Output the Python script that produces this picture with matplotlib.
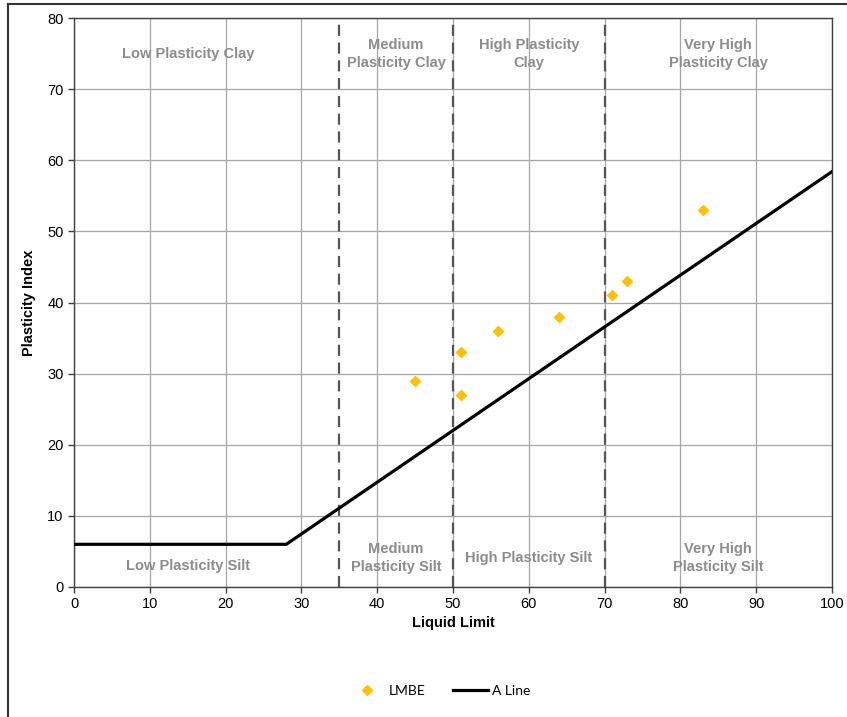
import matplotlib.pyplot as plt
import matplotlib.lines as mlines

plt.rcParams['font.family'] = ['Liberation Sans', 'DejaVu Sans']

# datos LMBE
ll = [45, 51, 51, 56, 64, 71, 73, 83]
pi = [29, 33, 27, 36, 38, 41, 43, 53]

# linea A
a_ll = [0, 28, 100]
a_pi = [6, 6, 58.4]

# limites de zonas
bounds = [35, 50, 70]

clay_labels = ["Low Plasticity Clay", "Medium\nPlasticity Clay", "High Plasticity\nClay", "Very High\nPlasticity Clay"]
clay_x = [15, 42.5, 60, 85]
clay_y = [75, 74.9, 74.9, 74.9]
silt_labels = ["Low Plasticity Silt", "Medium\nPlasticity Silt", "High Plasticity Silt", "Very High\nPlasticity Silt"]
silt_x = [15, 42.5, 60, 85]
silt_y = [3, 4.1, 4.1, 4.1]

fig = plt.figure(figsize=(8.47, 7.17), dpi=100)
ax = fig.add_axes([74/847, 1-587/717, (832-74)/847, (587-18)/717])

ax.set_xlim(0, 100)
ax.set_ylim(0, 80)
ax.set_xticks(range(0, 101, 10))
ax.set_yticks(range(0, 81, 10))
ax.grid(True, color='#a6a6a6', linewidth=0.9)
ax.set_axisbelow(True)
for s in ax.spines.values():
    s.set_color('#404040')
    s.set_linewidth(1.0)
ax.tick_params(direction='out', length=4, width=1, color='#404040', labelsize=10.5, labelcolor='black')

for b in bounds:
    ax.axvline(b, color='#555555', linewidth=1.6, linestyle=(0, (5, 3)), zorder=2)

for t, x, y in zip(clay_labels, clay_x, clay_y):
    ax.text(x, y, t, ha='center', va='center', color='#8c8c8c', fontsize=10.5, fontweight='bold', linespacing=1.35)
for t, x, y in zip(silt_labels, silt_x, silt_y):
    ax.text(x, y, t, ha='center', va='center', color='#8c8c8c', fontsize=10.5, fontweight='bold', linespacing=1.35)

ax.plot(a_ll, a_pi, color='black', linewidth=2.3, zorder=3)
ax.plot(ll, pi, linestyle='none', marker='D', markersize=5, color='#ffc000', zorder=4)

ax.set_xlabel("Liquid Limit", fontsize=10.5, fontweight='bold', labelpad=3)
ax.set_ylabel("Plasticity Index", fontsize=10.5, fontweight='bold', labelpad=8)

h1 = mlines.Line2D([], [], linestyle='none', marker='D', markersize=5, color='#ffc000')
h2 = mlines.Line2D([], [], color='black', linewidth=2.3)
fig.legend([h1, h2], ["LMBE", "A Line"], loc='center', bbox_to_anchor=(440/847, 1-691/717), ncol=2,
           frameon=False, prop={'family': 'Lato', 'size': 10}, handlelength=2.5, columnspacing=2.0, handletextpad=0.3)

# borde del marco (izquierda y arriba)
fig.add_artist(mlines.Line2D([8/847, 8/847], [0, 1-4/717], color='#333333', linewidth=1.5))
fig.add_artist(mlines.Line2D([8/847, 1], [1-4/717, 1-4/717], color='#333333', linewidth=1.5))

plt.savefig("out.png", dpi=100)
